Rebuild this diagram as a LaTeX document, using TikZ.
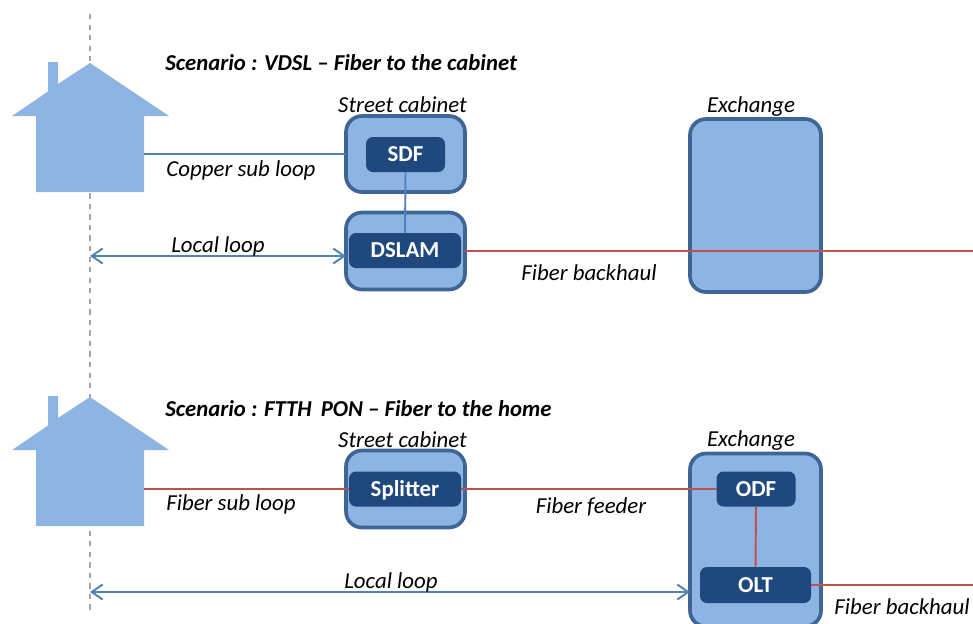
\documentclass[tikz,border=0pt]{standalone}
\usepackage{fontspec}
\setmainfont{Carlito}
\usetikzlibrary{arrows.meta}
\definecolor{lightblue}{HTML}{8EB4E3}
\definecolor{darkblue}{HTML}{1F497D}
\definecolor{edgeblue}{HTML}{3E6596}
\definecolor{wireblue}{HTML}{4F81BD}
\definecolor{wirered}{HTML}{C0504D}
\tikzset{
  cabinet/.style={draw=edgeblue,fill=lightblue,line width=2.1pt,rounded corners=0.32cm,inner sep=0pt,outer sep=0pt},
  unit/.style={fill=darkblue,text=white,rounded corners=0.14cm,inner sep=0pt,outer sep=0pt,text height=0.29cm,text depth=0pt,font=\fontsize{13}{15}\selectfont\bfseries},
  caption/.style={inner sep=0pt,font=\fontsize{13}{15}\selectfont\itshape},
  headline/.style={inner sep=0pt,anchor=west,font=\fontsize{12.95}{15}\selectfont\bfseries\itshape},
  copper/.style={draw=wireblue,line width=1.1pt},
  fiber/.style={draw=wirered,line width=1.1pt},
  loop/.style={draw=wireblue,line width=1.1pt,{Straight Barb[length=0.22cm,width=0.3cm]}-{Straight Barb[length=0.22cm,width=0.3cm]}},
  house/.style={fill=lightblue}
}
\begin{document}
\begin{tikzpicture}
\useasboundingbox (0,0) rectangle (19.46,-12.46);
\clip (0,0) rectangle (19.46,-12.46);

% dashed border of the premises
\coordinate(top) at (1.8,-0.28);
\coordinate(bottom) at (1.8,-12.24);
\draw[dashed,gray!70,line width=0.7pt] (top) -- (bottom);

% houses
\foreach \y in {0,-6.68}{
\begin{scope}[yshift=\y cm]
\fill[house] (1.8,-1.26) -- (3.38,-2.32) -- (2.88,-2.32) -- (2.88,-3.84) -- (0.72,-3.84) -- (0.72,-2.32) -- (0.24,-2.32) -- (0.96,-1.83) -- (0.96,-1.24) -- (1.16,-1.24) -- (1.16,-1.68) -- cycle;
\end{scope}
}

% scenario VDSL
\node(titlea) at (3.3,-1.26)[headline]{Scenario : VDSL -- Fiber to the cabinet};
\node(streeta) at (8.05,-2.1)[caption]{Street cabinet};
\node(exchangea) at (15.02,-2.13)[caption]{Exchange};

\node(cabineta) at (8.11,-3.08)[cabinet,minimum width=2.38cm,minimum height=1.52cm]{};
\node(cabinetb) at (8.11,-5.02)[cabinet,minimum width=2.38cm,minimum height=1.54cm]{};
\node(buildinga) at (15.11,-4.11)[cabinet,minimum width=2.62cm,minimum height=3.46cm]{};
\node(sdf) at (8.11,-3.09)[unit,minimum width=1.58cm,minimum height=0.7cm]{SDF};
\node(dslam) at (8.1,-5.01)[unit,minimum width=2.24cm,minimum height=0.7cm]{DSLAM};

\coordinate(housea) at (2.88,-3.08);
\coordinate(edgea) at (19.46,-5.02);
\coordinate(loopa) at (1.8,-5.12);

\draw[copper] (housea) -- (cabineta.west);
\draw[copper] (sdf.south) -- (dslam.north);
\draw[fiber] (cabinetb.east) -- (edgea);
\draw[loop] (loopa) -- (cabinetb.west |- loopa);

\node(coppersub) at (4.82,-3.41)[caption]{Copper sub loop};
\node(localloopa) at (4.36,-4.93)[caption]{Local loop};
\node(backhaula) at (11.78,-5.45)[caption]{Fiber backhaul};

% scenario FTTH
\node(titleb) at (3.3,-8.17)[headline]{Scenario : FTTH\, PON -- Fiber to the home};
\node(streetb) at (8.05,-8.79)[caption]{Street cabinet};
\node(exchangeb) at (15.02,-8.81)[caption]{Exchange};

\node(cabinetc) at (8.11,-9.78)[cabinet,minimum width=2.38cm,minimum height=1.54cm]{};
\node(buildingb) at (15.11,-10.8)[cabinet,minimum width=2.62cm,minimum height=3.46cm]{};
\node(splitter) at (8.1,-9.78)[unit,minimum width=2.24cm,minimum height=0.7cm]{Splitter};
\node(odf) at (15.12,-9.78)[unit,minimum width=1.58cm,minimum height=0.7cm]{ODF};
\node(olt) at (15.11,-11.7)[unit,minimum width=2.22cm,minimum height=0.72cm]{OLT};

\coordinate(houseb) at (2.88,-9.78);
\coordinate(edgeb) at (19.46,-11.7);
\coordinate(loopb) at (1.8,-11.84);

\draw[fiber] (houseb) -- (splitter.west);
\draw[fiber] (splitter.east) -- (odf.west);
\draw[fiber] (odf.south) -- (olt.north);
\draw[fiber] (olt.east) -- (edgeb);
\draw[loop] (loopb) -- (buildingb.west |- loopb);

\node(fibersub) at (4.62,-10.09)[caption]{Fiber sub loop};
\node(feeder) at (11.82,-10.13)[caption]{Fiber feeder};
\node(localloopb) at (7.82,-11.65)[caption]{Local loop};
\node(backhaulb) at (18.04,-12.13)[caption]{Fiber backhaul};

\end{tikzpicture}
\end{document}
